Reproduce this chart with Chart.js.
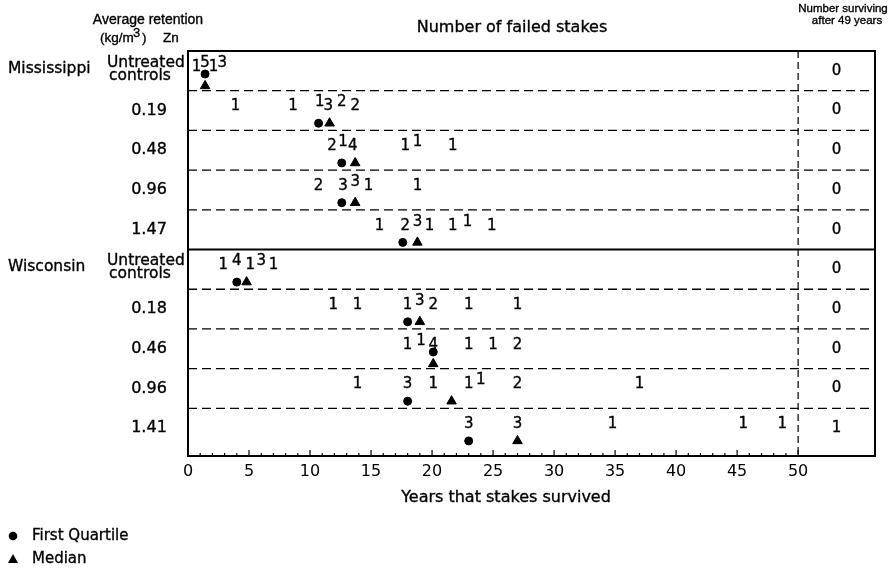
<!DOCTYPE html>
<html>
<head>
<meta charset="utf-8">
<script src="https://cdn.jsdelivr.net/npm/chart.js@4.4.1/dist/chart.umd.min.js"></script>
<style>
  html, body { margin: 0; padding: 0; background: #fff; }
  #wrap { width: 889px; height: 574px; position: relative; }
</style>
</head>
<body>
<div id="wrap"><canvas id="stakeChart"></canvas></div>
<script>
// rows, top to bottom
const rowLabels = ['Untreated controls', '0.19', '0.48', '0.96', '1.47',
                   'Untreated controls', '0.18', '0.46', '0.96', '1.41'];
const siteNames = ['Mississippi', 'Wisconsin'];
const siteStartRow = [0, 5];

// years at which stakes failed, and how many failed there
const failYears = [
  [0.7, 1.4, 2.1, 2.8],
  [3.9, 8.6, 10.8, 11.5, 12.6, 13.7],
  [11.8, 12.7, 13.5, 17.8, 18.8, 21.7],
  [10.7, 12.7, 13.7, 14.8, 18.8],
  [15.7, 17.8, 18.8, 19.8, 21.7, 22.9, 24.9],
  [2.9, 4.0, 5.1, 6.0, 7.0],
  [11.9, 13.9, 18.0, 19.0, 20.1, 23.0, 27.0],
  [18.0, 19.1, 20.1, 23.0, 25.0, 27.0],
  [13.9, 18.0, 20.1, 23.0, 24.0, 27.0, 37.0],
  [23.0, 27.0, 34.8, 45.5, 48.7]
];
const failCounts = [
  [1, 5, 1, 3],
  [1, 1, 1, 3, 2, 2],
  [2, 1, 4, 1, 1, 1],
  [2, 3, 3, 1, 1],
  [1, 2, 3, 1, 1, 1, 1],
  [1, 4, 1, 3, 1],
  [1, 1, 1, 3, 2, 1, 1],
  [1, 1, 4, 1, 1, 2],
  [1, 3, 1, 1, 1, 2, 1],
  [3, 3, 1, 1, 1]
];
// counts printed as superscripts in the original
const raisedCount = [
  [0, 1, 0, 1],
  [0, 0, 1, 0, 1, 0],
  [0, 1, 0, 0, 1, 0],
  [0, 0, 1, 0, 0],
  [0, 0, 1, 0, 0, 1, 0],
  [0, 1, 0, 1, 0],
  [0, 0, 0, 1, 0, 0, 0],
  [0, 1, 0, 0, 0, 0],
  [0, 0, 0, 0, 1, 0, 0],
  [0, 0, 0, 0, 0]
];

const firstQuartile = [1.4, 10.7, 12.6, 12.6, 17.6, 4.0, 18.0, 20.1, 18.0, 23.0];
const median        = [1.4, 11.6, 13.7, 13.7, 18.8, 4.8, 19.0, 20.1, 21.6, 27.0];
const survivors     = [0, 0, 0, 0, 0, 0, 0, 0, 0, 1];

const xTickValues = [0, 5, 10, 15, 20, 25, 30, 35, 40, 45, 50];
const cutoffYear = 50;
const xMax = 56.3;

const FONT = 'DejaVu Sans';

function txt(ctx, s, x, y, size, align, family) {
  ctx.font = size + 'px "' + (family || FONT) + '"';
  ctx.textAlign = align || 'center';
  ctx.textBaseline = 'middle';
  ctx.fillText(s, x, y);
  // scanned print looks a little heavier
  ctx.lineWidth = 0.35;
  ctx.strokeText(s, x, y);
}

const stakeDecor = {
  id: 'stakeDecor',
  beforeDatasetsDraw(chart) {
    const ctx = chart.ctx;
    const {left, right, top, bottom} = chart.chartArea;
    const xs = chart.scales.x, ys = chart.scales.y;
    ctx.save();
    ctx.strokeStyle = '#000';
    // row separators
    for (let i = 1; i < rowLabels.length; i++) {
      const py = ys.getPixelForValue(i);
      ctx.beginPath();
      if (i === siteStartRow[1]) {
        ctx.setLineDash([]);
        ctx.lineWidth = 2;
      } else {
        ctx.setLineDash([9, 5]);
        ctx.lineWidth = 1.3;
      }
      ctx.moveTo(left, py);
      ctx.lineTo(right, py);
      ctx.stroke();
    }
    // cutoff line
    const cx = xs.getPixelForValue(cutoffYear);
    ctx.setLineDash([7, 4]);
    ctx.lineWidth = 1.2;
    ctx.beginPath();
    ctx.moveTo(cx, top);
    ctx.lineTo(cx, bottom);
    ctx.stroke();
    // frame
    ctx.setLineDash([]);
    ctx.lineWidth = 2;
    ctx.strokeRect(left, top, right - left, bottom - top);
    // tick marks pointing in
    ctx.lineWidth = 1.2;
    for (let v = 0; v <= cutoffYear; v++) {
      const px = xs.getPixelForValue(v);
      const len = v % 5 === 0 ? 6 : 3;
      ctx.beginPath();
      ctx.moveTo(px, bottom);
      ctx.lineTo(px, bottom - len);
      ctx.stroke();
    }
    ctx.restore();
  },
  afterDatasetsDraw(chart) {
    const ctx = chart.ctx;
    const xs = chart.scales.x, ys = chart.scales.y;
    ctx.save();
    ctx.fillStyle = '#000';
    ctx.strokeStyle = '#000';

    // failure counts
    failYears.forEach((row, i) => {
      row.forEach((yr, j) => {
        const px = xs.getPixelForValue(yr);
        const py = ys.getPixelForValue(i + 0.4) - (raisedCount[i][j] ? 4 : 0);
        txt(ctx, String(failCounts[i][j]), px, py, 15);
      });
      // survivors column
      const sx = xs.getPixelForValue((cutoffYear + xMax) / 2);
      txt(ctx, String(survivors[i]), sx, ys.getPixelForValue(i + 0.5), 15);
    });

    // row labels
    rowLabels.forEach((lab, i) => {
      if (lab.indexOf('Untreated') === 0) {
        txt(ctx, 'Untreated', 107, ys.getPixelForValue(i + 0.3), 15.5, 'left');
        txt(ctx, 'controls', 109, ys.getPixelForValue(i + 0.62), 15.5, 'left');
      } else {
        txt(ctx, lab, 149, ys.getPixelForValue(i + 0.5), 16);
      }
    });
    siteNames.forEach((s, k) => {
      txt(ctx, s, 8, ys.getPixelForValue(siteStartRow[k] + 0.45), 15.5, 'left');
    });

    // headers
    txt(ctx, 'Average retention', 148, 20, 14, 'center', 'Liberation Sans');
    txt(ctx, '(kg/m', 100, 38, 13.5, 'left', 'Liberation Sans');
    txt(ctx, '3', 133, 33, 13, 'left', 'Liberation Sans');
    txt(ctx, ')', 142, 38, 13.5, 'left', 'Liberation Sans');
    txt(ctx, 'Zn', 163, 38, 13.5, 'left', 'Liberation Sans');
    txt(ctx, 'Number of failed stakes', 512, 28, 16);
    txt(ctx, 'Number surviving', 843, 9, 11.5, 'center', 'Liberation Sans');
    txt(ctx, 'after 49 years', 847, 21, 11.5, 'center', 'Liberation Sans');
    txt(ctx, 'Years that stakes survived', 506, 498, 16);

    // legend
    const ds = chart.data.datasets;
    const legY = [536, 559];
    ds.forEach((d, k) => {
      const y = legY[k];
      ctx.beginPath();
      if (d.pointStyle === 'circle') {
        ctx.arc(13, y, 4.3, 0, Math.PI * 2);
      } else {
        ctx.moveTo(13, y - 5);
        ctx.lineTo(18, y + 4);
        ctx.lineTo(8, y + 4);
        ctx.closePath();
      }
      ctx.fill();
      txt(ctx, d.label, 32, y, 15, 'left');
    });
    ctx.restore();
  }
};

const q1Points = firstQuartile.map((v, i) => ({x: v, y: i + (v === median[i] ? 0.58 : 0.82)}));
const medPoints = median.map((v, i) => ({x: v, y: i + (v === firstQuartile[i] ? 0.88 : 0.82)}));

new Chart(document.getElementById('stakeChart'), {
  type: 'scatter',
  data: {
    datasets: [{
      label: 'First Quartile',
      data: q1Points,
      pointStyle: 'circle',
      pointRadius: 4,
      backgroundColor: '#000',
      borderColor: '#000',
      borderWidth: 1
    }, {
      label: 'Median',
      data: medPoints,
      pointStyle: 'triangle',
      pointRadius: 5.5,
      backgroundColor: '#000',
      borderColor: '#000',
      borderWidth: 1
    }]
  },
  options: {
    responsive: true,
    maintainAspectRatio: false,
    animation: false,
    events: [],
    layout: { padding: { left: 188, right: 14, top: 51, bottom: 78 } },
    plugins: { legend: { display: false }, tooltip: { enabled: false } },
    scales: {
      x: {
        type: 'linear',
        min: 0,
        max: xMax,
        grid: { display: false, drawTicks: false },
        border: { display: false },
        ticks: {
          color: '#000',
          padding: 6,
          maxRotation: 0,
          autoSkip: false,
          font: { family: FONT, size: 16 }
        },
        afterBuildTicks: axis => { axis.ticks = xTickValues.map(v => ({value: v})); },
        afterFit: scale => { scale.height = 40; }
      },
      y: {
        type: 'linear',
        display: false,
        min: 0,
        max: 10.2,
        reverse: true
      }
    }
  },
  plugins: [stakeDecor]
});
</script>
</body>
</html>
